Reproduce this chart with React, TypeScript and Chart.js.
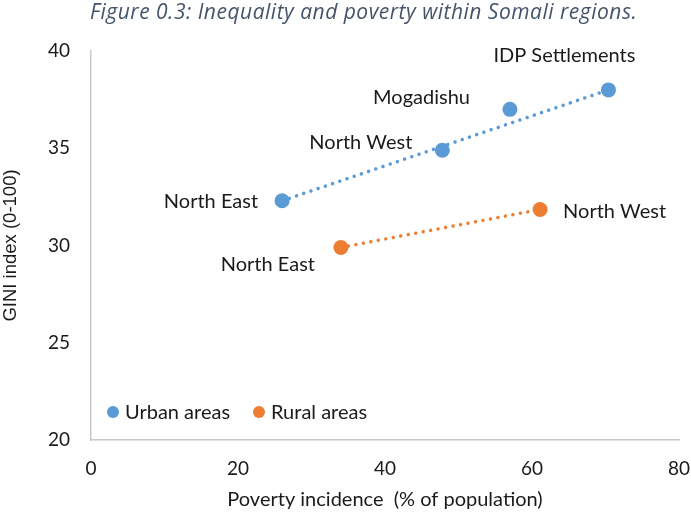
import React, { useEffect, useRef } from 'react';
import { Chart, registerables } from 'chart.js';
Chart.register(...registerables);

// ---- data ----
const urbanX = [26.0, 47.8, 57.0, 70.4];
const urbanY = [32.3, 34.9, 37.0, 38.0];
const urbanLabels = ['North East', 'North West', 'Mogadishu', 'IDP Settlements'];
const ruralX = [34.0, 61.1];
const ruralY = [29.9, 31.85];
const ruralLabels = ['North East', 'North West'];
const urbanTrendX = [26.0, 70.4];
const urbanTrendY = [32.3, 38.0];
const ruralTrendX = [34.0, 61.1];
const ruralTrendY = [29.9, 31.85];
const xTicks = [0, 20, 40, 60, 80];
const yTicks = [20, 25, 30, 35, 40];
const seriesNames = ['Urban areas', 'Rural areas'];
const titleText = 'Figure 0.3: Inequality and poverty within Somali regions.';
const xTitle = 'Poverty incidence  (% of population)';
const yTitle = 'GINI index (0-100)';

// ---- style ----
const BLUE = '#5B9BD5';
const ORANGE = '#ED7D31';
const TEXT = '#1a1a1a';
const FONT = 'Lato';
const urbanLabelPos = [
  { dx: -24, dy: 1, align: 'right' },
  { dx: -30, dy: -8, align: 'right' },
  { dx: -40, dy: -12, align: 'right' },
  { dx: -44, dy: -34, align: 'center' },
];
const ruralLabelPos = [
  { dx: -73, dy: 17, align: 'center' },
  { dx: 23, dy: 2, align: 'left' },
];

const toPts = (xs: number[], ys: number[]) => xs.map((x, i) => ({ x, y: ys[i] }));

const overlayPlugin = {
  id: 'overlay',
  afterDatasetsDraw(chart: any) {
    const ctx = chart.ctx;
    const ca = chart.chartArea;
    ctx.save();
    // data labels
    ctx.font = `20px ${FONT}`;
    ctx.fillStyle = TEXT;
    ctx.textBaseline = 'middle';
    const sets: [number, string[], any[]][] = [
      [0, urbanLabels, urbanLabelPos],
      [1, ruralLabels, ruralLabelPos],
    ];
    sets.forEach(([di, labels, pos]) => {
      const meta = chart.getDatasetMeta(di);
      meta.data.forEach((el: any, j: number) => {
        const p = pos[j];
        ctx.textAlign = p.align;
        ctx.fillText(labels[j], el.x + p.dx, el.y + p.dy);
      });
    });
    // legend
    const ly = ca.bottom - 28;
    const items = [
      { x: ca.left + 22, color: BLUE, text: seriesNames[0] },
      { x: ca.left + 168, color: ORANGE, text: seriesNames[1] },
    ];
    items.forEach((it) => {
      ctx.beginPath();
      ctx.fillStyle = it.color;
      ctx.arc(it.x, ly, 6, 0, Math.PI * 2);
      ctx.fill();
      ctx.fillStyle = TEXT;
      ctx.textAlign = 'left';
      ctx.fillText(it.text, it.x + 12, ly + 1);
    });
    // title
    ctx.font = `italic 21px "Open Sans"`;
    ctx.fillStyle = '#44546A';
    ctx.textAlign = 'left';
    ctx.textBaseline = 'alphabetic';
    try { (ctx as any).letterSpacing = '0.5px'; } catch (e) {}
    ctx.fillText(titleText, 90, 19);
    ctx.restore();
  },
};

export default function App() {
  const ref = useRef<HTMLCanvasElement | null>(null);
  useEffect(() => {
    if (!ref.current) return;
    const chart = new Chart(ref.current, {
      type: 'scatter',
      data: {
        datasets: [
          {
            label: seriesNames[0],
            data: toPts(urbanX, urbanY),
            backgroundColor: BLUE,
            borderWidth: 0,
            pointRadius: 7.5,
            pointHoverRadius: 7.5,
          },
          {
            label: seriesNames[1],
            data: toPts(ruralX, ruralY),
            backgroundColor: ORANGE,
            borderWidth: 0,
            pointRadius: 7.5,
            pointHoverRadius: 7.5,
          },
          {
            label: 'Urban trend',
            data: toPts(urbanTrendX, urbanTrendY),
            showLine: true,
            borderColor: BLUE,
            borderWidth: 3.5,
            borderDash: [0.01, 7.6],
            borderCapStyle: 'round',
            pointRadius: 0,
            fill: false,
          },
          {
            label: 'Rural trend',
            data: toPts(ruralTrendX, ruralTrendY),
            showLine: true,
            borderColor: ORANGE,
            borderWidth: 3.5,
            borderDash: [0.01, 7.6],
            borderCapStyle: 'round',
            pointRadius: 0,
            fill: false,
          },
        ] as any,
      },
      options: {
        animation: false,
        responsive: false,
        devicePixelRatio: 1,
        layout: { padding: { top: 51, right: 12, bottom: 0, left: 0 } },
        plugins: {
          legend: { display: false },
          tooltip: { enabled: false },
          title: { display: false },
        },
        scales: {
          x: {
            type: 'linear',
            min: 0,
            max: 80,
            afterBuildTicks: (s: any) => {
              s.ticks = xTicks.map((v) => ({ value: v }));
            },
            afterFit: (s: any) => {
              s.height = 72;
              s.paddingLeft = 0;
              s.paddingRight = 0;
            },
            grid: { display: true, drawOnChartArea: false, drawTicks: false, color: 'transparent' },
            border: { display: true, color: '#C8C8C8', width: 1.5 },
            ticks: { padding: 17, color: TEXT, font: { family: FONT, size: 19 }, maxRotation: 0 },
            title: {
              display: true,
              text: xTitle,
              color: TEXT,
              font: { family: FONT, size: 20 },
              padding: { top: 0, bottom: 0 },
            },
          },
          y: {
            type: 'linear',
            min: 20,
            max: 40,
            afterBuildTicks: (s: any) => {
              s.ticks = yTicks.map((v) => ({ value: v }));
            },
            afterFit: (s: any) => {
              s.width = 91;
              s.paddingTop = 0;
              s.paddingBottom = 0;
            },
            grid: { display: true, drawOnChartArea: false, drawTicks: false, color: 'transparent' },
            border: { display: true, color: '#C8C8C8', width: 1.5 },
            ticks: { padding: 21, color: TEXT, font: { family: FONT, size: 19 } },
            title: {
              display: true,
              text: yTitle,
              color: TEXT,
              font: { family: 'Liberation Sans', size: 18.5 },
              padding: { top: 0, bottom: 0 },
            },
          },
        },
      } as any,
      plugins: [overlayPlugin],
    });
    return () => chart.destroy();
  }, []);
  return (
    <div style={{ position: 'fixed', left: 0, top: 0, width: 691, height: 512, background: '#fff' }}>
      <canvas ref={ref} width={691} height={512} />
    </div>
  );
}
